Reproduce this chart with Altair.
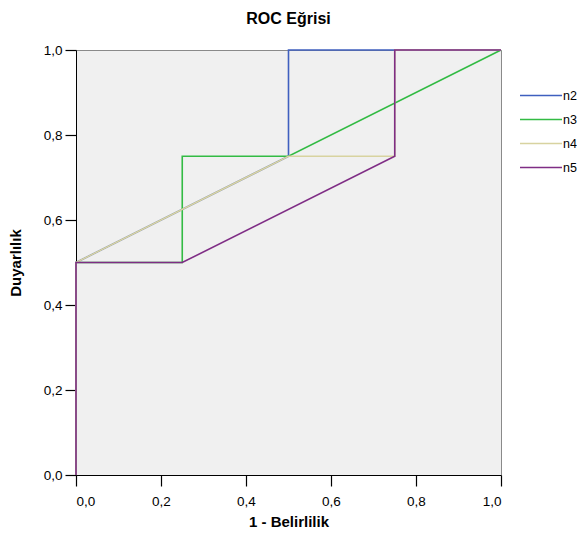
import altair as alt
import pandas as pd

series = ["n2", "n3", "n4", "n5"]
colors = ["#3f5fbf", "#33bb44", "#d8d3a0", "#7f2d85"]

fpr_n2 = [0.0, 0.0, 0.5, 0.5, 1.0]
tpr_n2 = [0.0, 0.5, 0.75, 1.0, 1.0]
fpr_n3 = [0.0, 0.0, 0.25, 0.25, 0.5, 1.0]
tpr_n3 = [0.0, 0.5, 0.5, 0.75, 0.75, 1.0]
fpr_n4 = [0.0, 0.0, 0.5, 0.75, 0.75, 1.0]
tpr_n4 = [0.0, 0.5, 0.75, 0.75, 1.0, 1.0]
fpr_n5 = [0.0, 0.0, 0.25, 0.75, 0.75, 1.0]
tpr_n5 = [0.0, 0.5, 0.5, 0.75, 1.0, 1.0]

tick_values = [0.0, 0.2, 0.4, 0.6, 0.8, 1.0]

rows = []
for name, xs, ys in [("n2", fpr_n2, tpr_n2), ("n3", fpr_n3, tpr_n3),
                     ("n4", fpr_n4, tpr_n4), ("n5", fpr_n5, tpr_n5)]:
    for i, (x, y) in enumerate(zip(xs, ys)):
        rows.append({"series": name, "i": i, "fpr": x, "tpr": y})
df = pd.DataFrame(rows)
leg = pd.DataFrame({"series": series})

FONT = "Liberation Sans"
label_expr = "replace(format(datum.value, '.1f'), '.', ',')"

color_scale = alt.Scale(domain=series, range=colors)

lines = alt.Chart(df).mark_line(strokeWidth=1.6, clip=False).encode(
    x=alt.X("fpr:Q", scale=alt.Scale(domain=[0, 1], nice=False),
            axis=alt.Axis(values=tick_values, labelExpr=label_expr,
                          title="1 - Belirlilik", titlePadding=7)),
    y=alt.Y("tpr:Q", scale=alt.Scale(domain=[0, 1], nice=False),
            axis=alt.Axis(values=tick_values, labelExpr=label_expr,
                          title="Duyarlılık", titlePadding=20)),
    color=alt.Color("series:N", scale=color_scale, legend=None),
    order=alt.Order("i:Q"),
)

leg_y = alt.Y("series:N", scale=alt.Scale(type="point", domain=series,
                                           range=[45.5, 117.5], padding=0),
              axis=None)

leg_rule = alt.Chart(leg).mark_rule(strokeWidth=1.6, clip=False).encode(
    x=alt.value(444), x2=alt.value(486), y=leg_y,
    color=alt.Color("series:N", scale=color_scale, legend=None),
)
leg_text = alt.Chart(leg).mark_text(align="left", baseline="middle", dx=0,
                                    font=FONT, fontSize=12.5, color="black",
                                    clip=False).encode(
    x=alt.value(487), y=leg_y, text="series:N",
)

legend_layer = alt.layer(leg_rule, leg_text)

chart = alt.layer(lines, legend_layer).resolve_scale(y="independent").properties(
    width=425, height=425,
    title=alt.TitleParams("ROC Eğrisi", font=FONT, fontSize=16, fontWeight="bold",
                          anchor="middle", frame="group", offset=16, color="black"),
    autosize=alt.AutoSizeParams(type="none"),
    padding={"left": 68, "top": 42, "right": 76, "bottom": 60},
).configure_view(
    fill="#f0f0f0", stroke="#8a8a8a", strokeWidth=1,
).configure_axis(
    grid=False, domainColor="black", domainWidth=1, tickColor="black",
    tickWidth=1.2, tickSize=11, labelFont=FONT, labelFontSize=13.5,
    labelColor="black", labelPadding=3, titleFont=FONT, titleFontSize=15,
    titleFontWeight="bold", titleColor="black",
).configure_axisX(labelPadding=8)

chart.save("out.html", embed_options={"renderer": "svg", "actions": False})
